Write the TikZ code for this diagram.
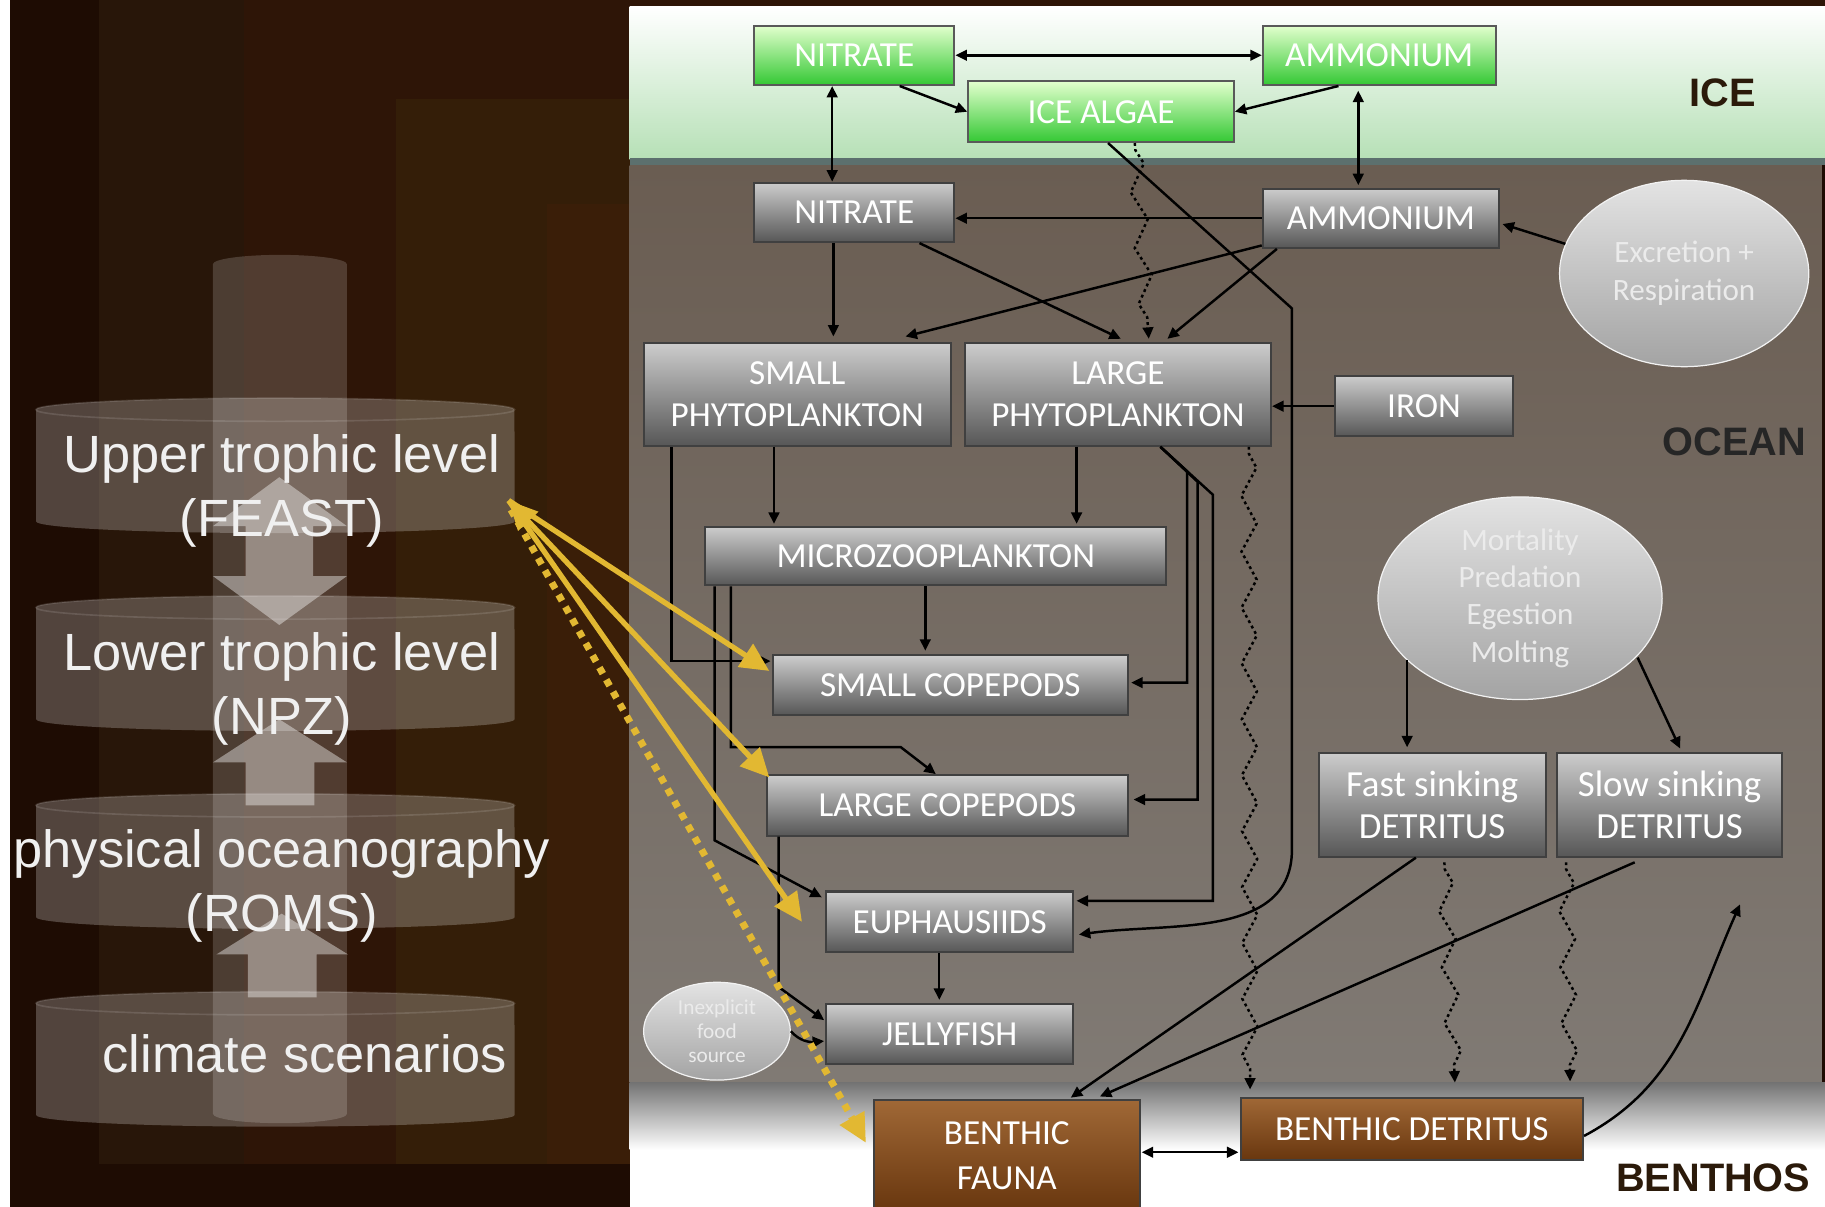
\documentclass[tikz,border=0pt]{standalone}
\usepackage{fontspec}
\setmainfont{Liberation Sans}
\newfontfamily\cali{Carlito}
\usetikzlibrary{arrows.meta,calc,shapes.geometric,decorations.pathmorphing}
\definecolor{lpa}{RGB}{30,12,3}
\definecolor{lpb}{RGB}{40,22,9}
\definecolor{lpc}{RGB}{46,21,7}
\definecolor{lpd}{RGB}{52,30,8}
\definecolor{lpe}{RGB}{58,30,8}
\definecolor{icegreen}{RGB}{182,224,182}
\definecolor{iceline}{RGB}{92,112,110}
\definecolor{seatop}{RGB}{106,93,82}
\definecolor{seabot}{RGB}{128,122,116}
\definecolor{grntop}{RGB}{226,255,205}
\definecolor{grnbot}{RGB}{52,200,52}
\definecolor{brntop}{RGB}{160,104,54}
\definecolor{brnbot}{RGB}{104,54,14}
\definecolor{feedy}{RGB}{226,184,50}
\definecolor{zonebrown}{RGB}{43,26,10}
\tikzset{
  box/.style={draw=black!75, line width=0.5pt, top color=black!20, bottom color=black!66, text=white,
    font=\cali\fontsize{8.6}{10.3}\selectfont, align=center, inner sep=0pt},
  icebox/.style={box, draw=black!65, top color=grntop, bottom color=grnbot},
  benbox/.style={box, top color=brntop, bottom color=brnbot},
  wh/.style 2 args={minimum width=#1, minimum height=#2},
  blob/.style={ellipse, draw=black!5, line width=0.3pt, top color=black!11, bottom color=black!36,
    text=white!92!black, align=center, inner sep=0pt, font=\cali\fontsize{7.6}{9.3}\selectfont},
  link/.style={-{Triangle[length=2.8pt,width=2.6pt]}, line width=0.6pt},
  twolink/.style={{Triangle[length=2.8pt,width=2.6pt]}-{Triangle[length=2.8pt,width=2.6pt]}, line width=0.6pt},
  sink/.style={link, dash pattern=on 0.7pt off 0.8pt, decorate,
    decoration={zigzag, segment length=0.48cm, amplitude=0.065cm, pre length=0.06cm, post length=0.12cm}},
  feed/.style={-{Triangle[length=7pt,width=6.5pt]}, line width=1.3pt, draw=feedy},
  tier/.style={text=white!94!black, font=\fontsize{12.8}{15.6}\selectfont, align=center, inner sep=0pt},
  zone/.style={font=\bfseries\fontsize{9.7}{11}\selectfont, text=zonebrown, inner sep=0pt},
  disk/.style={fill=white, fill opacity=0.23},
  glass/.style={fill=white, fill opacity=0.17},
  rim/.style={draw=white, draw opacity=0.12, line width=0.4pt},
  blockarr/.style={fill=white, fill opacity=0.4}
}
\begin{document}
\begin{tikzpicture}[x=0.01cm,y=-0.01cm]
\useasboundingbox (0,0) rectangle (1568,1037);
\fill[white] (0,0) rectangle (1568,1037);
% model tiers
\fill[lpa] (9,0) rectangle (541,1037); \fill[lpc] (541,0) rectangle (1568,6);
\fill[lpb] (85,0) rectangle (541,1000); \fill[lpc] (210,0) rectangle (541,1000);
\fill[lpd] (340,85) rectangle (541,1000); \fill[lpe] (470,175) rectangle (541,1000);
\fill[glass] (183,227) -- (183,957) arc[start angle=180,end angle=360,x radius=0.575cm,y radius=0.08cm] -- (298,227) arc[start angle=0,end angle=180,x radius=0.575cm,y radius=0.08cm] -- cycle;
\fill[disk] (31,352) -- (31,448) arc[start angle=180,end angle=360,x radius=2.055cm,y radius=0.1cm] -- (442,352) arc[start angle=0,end angle=180,x radius=2.055cm,y radius=0.1cm] -- cycle;
\fill[disk] (31,522) -- (31,618) arc[start angle=180,end angle=360,x radius=2.055cm,y radius=0.1cm] -- (442,522) arc[start angle=0,end angle=180,x radius=2.055cm,y radius=0.1cm] -- cycle;
\fill[disk] (31,692) -- (31,788) arc[start angle=180,end angle=360,x radius=2.055cm,y radius=0.1cm] -- (442,692) arc[start angle=0,end angle=180,x radius=2.055cm,y radius=0.1cm] -- cycle;
\fill[disk] (31,862) -- (31,958) arc[start angle=180,end angle=360,x radius=2.055cm,y radius=0.1cm] -- (442,862) arc[start angle=0,end angle=180,x radius=2.055cm,y radius=0.1cm] -- cycle;
\draw[rim] (236.5,352) ellipse[x radius=2.055cm,y radius=0.1cm]; \draw[rim] (236.5,522) ellipse[x radius=2.055cm,y radius=0.1cm];
\draw[rim] (236.5,692) ellipse[x radius=2.055cm,y radius=0.1cm]; \draw[rim] (236.5,862) ellipse[x radius=2.055cm,y radius=0.1cm];
\fill[blockarr] (240,410) -- (298,452) -- (269,452) -- (269,495) -- (298,495) -- (240,537) -- (183,495) -- (211,495) -- (211,452) -- (183,452) -- cycle;
\fill[blockarr] (240,618) -- (298,655) -- (270,655) -- (270,692) -- (211,692) -- (211,655) -- (183,655) -- cycle;
\fill[blockarr] (242,785) -- (299,820) -- (272,820) -- (272,857) -- (213,857) -- (213,820) -- (186,820) -- cycle;
\node[tier] (feast) at (242,422) {Upper trophic level\\(FEAST)};
\node[tier] (npz) at (242,592) {Lower trophic level\\(NPZ)};
\node[tier] (roms) at (242,761) {physical oceanography\\(ROMS)};
\node[tier] (clim) at (262,905) {climate scenarios};
% ice, ocean, benthos
\shade[top color=white, bottom color=icegreen] (541,6) rectangle (1568,137);
\fill[iceline] (541,136) rectangle (1568,142);
\shade[top color=seatop, bottom color=seabot] (541,142) rectangle (1568,930);
\fill[lpa] (1565,142) rectangle (1568,930);
\shade[top color=black!55, bottom color=white] (541,930) rectangle (1568,988);
\node[zone] (icel) at (1480,80) {ICE};
\node[zone, text=black!85] (oceanl) at (1490,380) {OCEAN};
\node[zone] (benl) at (1472,1012) {BENTHOS};
\node[icebox, wh={1.72cm}{0.51cm}] (inut) at (734,47.5) {NITRATE};
\node[icebox, wh={2.00cm}{0.51cm}] (iamm) at (1185,47.5) {AMMONIUM};
\node[icebox, wh={2.28cm}{0.52cm}] (ialg) at (946,96) {ICE ALGAE};
\node[box, wh={1.72cm}{0.51cm}] (onut) at (734,182.5) {NITRATE};
\node[box, wh={2.03cm}{0.51cm}] (oamm) at (1186.5,187.5) {AMMONIUM};
\node[blob, wh={2.14cm}{1.60cm}] (exre) at (1447,235) {Excretion +\\Respiration};
\node[box, wh={2.64cm}{0.88cm}] (sphy) at (685,339) {SMALL\\PHYTOPLANKTON};
\node[box, wh={2.63cm}{0.88cm}] (lphy) at (960.5,339) {LARGE\\PHYTOPLANKTON};
\node[box, wh={1.53cm}{0.52cm}] (iron) at (1223.5,349) {IRON};
\node[box, wh={3.96cm}{0.50cm}] (mzoo) at (804,478) {MICROZOOPLANKTON};
\node[blob, wh={2.44cm}{1.74cm}, font=\cali\fontsize{7.6}{9.1}\selectfont] (mort) at (1306,514) {Mortality\\Predation\\Egestion\\Molting};
\node[box, wh={3.05cm}{0.51cm}] (scop) at (816.5,588.5) {SMALL COPEPODS};
\node[box, wh={3.10cm}{0.52cm}] (lcop) at (814,692) {LARGE COPEPODS};
\node[box, wh={1.95cm}{0.89cm}, font=\cali\fontsize{9}{10.3}\selectfont] (fdet) at (1230.5,691.5) {Fast sinking\\DETRITUS};
\node[box, wh={1.93cm}{0.89cm}, font=\cali\fontsize{9}{10.3}\selectfont] (sdet) at (1434.5,691.5) {Slow sinking\\DETRITUS};
\node[box, wh={2.12cm}{0.52cm}] (euph) at (816,792) {EUPHAUSIIDS};
\node[box, wh={2.12cm}{0.51cm}] (jell) at (816,888.5) {JELLYFISH};
\node[blob, wh={1.26cm}{0.84cm}, font=\cali\fontsize{5.2}{5.8}\selectfont] (infs) at (616,886) {Inexplicit\\food\\source};
\node[benbox, wh={2.28cm}{0.96cm}, font=\cali\fontsize{8.6}{10.8}\selectfont] (bfau) at (865,993) {BENTHIC\\FAUNA};
\node[benbox, wh={2.94cm}{0.54cm}] (bdet) at (1213,970) {BENTHIC DETRITUS};
% flows
\draw[twolink] (inut.east) -- (iamm.west);
\draw[link] ($(inut.south)+(39,0)$) -- (ialg.west);
\draw[link] ($(iamm.south)+(-35,0)$) -- (ialg.east);
\draw[twolink] ($(inut.south)+(-19,0)$) -- ($(onut.north)+(-19,0)$);
\draw[twolink] ($(iamm.south)+(-18,4)$) -- ($(oamm.north)+(-19.5,-2)$);
\draw[link] (oamm.west) -- (oamm.west -| onut.east);
\draw[link] ($(onut.south)+(-18,0)$) -- ($(sphy.north)+(31,-5)$);
\draw[link] ($(onut.south)+(56,0)$) -- ($(lphy.north)+(2.5,-3)$);
\draw[link] ($(oamm.south west)+(0,-3)$) -- ($(sphy.north)+(93,-5)$);
\draw[link] ($(oamm.south west)+(13,0)$) -- ($(lphy.north)+(42.5,-3)$);
\draw[sink] ($(ialg.south)+(29,0)$) -- ($(lphy.north)+(26.5,-3)$);
\draw[link] ($(ialg.south)+(6,0)$) -- (1110,265) -- (1110,730) to[out=-90,in=8] ($(euph.east)+(4,11)$);
\draw[link] (iron.west) -- (iron.west -| lphy.east);
\draw[link] (exre.166) -- ($(oamm.east)+(2,5)$);
\draw[link] ($(sphy.south)+(-20,0)$) -- ($(mzoo.north)+(-139,-2)$);
\draw[link] ($(lphy.south)+(-35.5,0)$) -- ($(mzoo.north)+(121,-2)$);
\draw[link] ($(sphy.south)+(-108,0)$) |- ($(scop.west)+(-1,-20.5)$);
\draw[link] ($(mzoo.south)+(-9,0)$) -- ($(scop.north)+(-21.5,-3)$);
\draw[link] ($(mzoo.south)+(-176,0)$) -- (628,642) -- (774,642) -- ($(lcop.north)+(-10,0)$);
\draw[link] ($(mzoo.south)+(-190,0)$) -- (614,722) -- ($(euph.west)+(-3,-21)$);
\draw[link] ($(lphy.south)+(36.5,0)$) -- (1020,405) |- ($(scop.east)+(2,-2)$);
\draw[link] ($(lphy.south)+(36.5,0)$) -- (1029,414) |- ($(lcop.east)+(4,-5)$);
\draw[link] ($(lphy.south)+(36.5,0)$) -- (1042,425) |- ($(euph.east)+(2,-18)$);
\draw[link] ($(lcop.south)+(-145,0)$) -- (669,848) -- ($(jell.west)+(-1,-12)$);
\draw[link] (infs.east) to[out=-50,in=185] ($(jell.west)+(-1,6)$);
\draw[link] ($(euph.south)+(-9,0)$) -- ($(jell.north)+(-9,-3)$);
\draw[sink] ($(lphy.south)+(112.5,0)$) -- ($(bdet.north west)+(9,-6)$);
\draw[link] ($(mort)+(-97,53)$) -- ($(fdet.north)+(-21.5,-4)$);
\draw[link] ($(mort)+(101,51)$) -- ($(sdet.north)+(9,-3)$);
\draw[sink] ($(fdet.south)+(10.5,4)$) -- ($(bdet.north)+(37,-12)$);
\draw[sink] ($(sdet.south)+(-89,4)$) -- ($(bdet.north)+(136,-13)$);
\draw[link] ($(fdet.south)+(-14,0)$) -- ($(bfau.north)+(55,-1)$);
\draw[link] ($(sdet.south)+(-30,4)$) -- ($(bfau.north)+(80,-2)$);
\draw[twolink] ($(bfau.east)+(1,-3)$) -- ($(bdet.west)+(-1,20)$);
\coordinate (reflux) at (1495,777);
\draw[link] ($(bdet.east)+(0,6)$) to[out=28,in=-114] (reflux);
% links to FEAST
\coordinate (feastport) at (437,430);
\draw[feed] (feastport) -- ($(scop.west)+(-2,-12)$);
\draw[feed, {Triangle[length=7pt,width=6.5pt]}-{Triangle[length=7pt,width=6.5pt]}] (feastport) -- ($(lcop.west)+(3,-24)$);
\draw[feed] (feastport) -- ($(euph.west)+(-20,0)$);
\draw[feed, line width=1.7pt, dash pattern=on 1.7pt off 1.7pt] ($(feastport)+(2,8)$) -- ($(bfau.west)+(-6,-11)$);
\end{tikzpicture}
\end{document}
